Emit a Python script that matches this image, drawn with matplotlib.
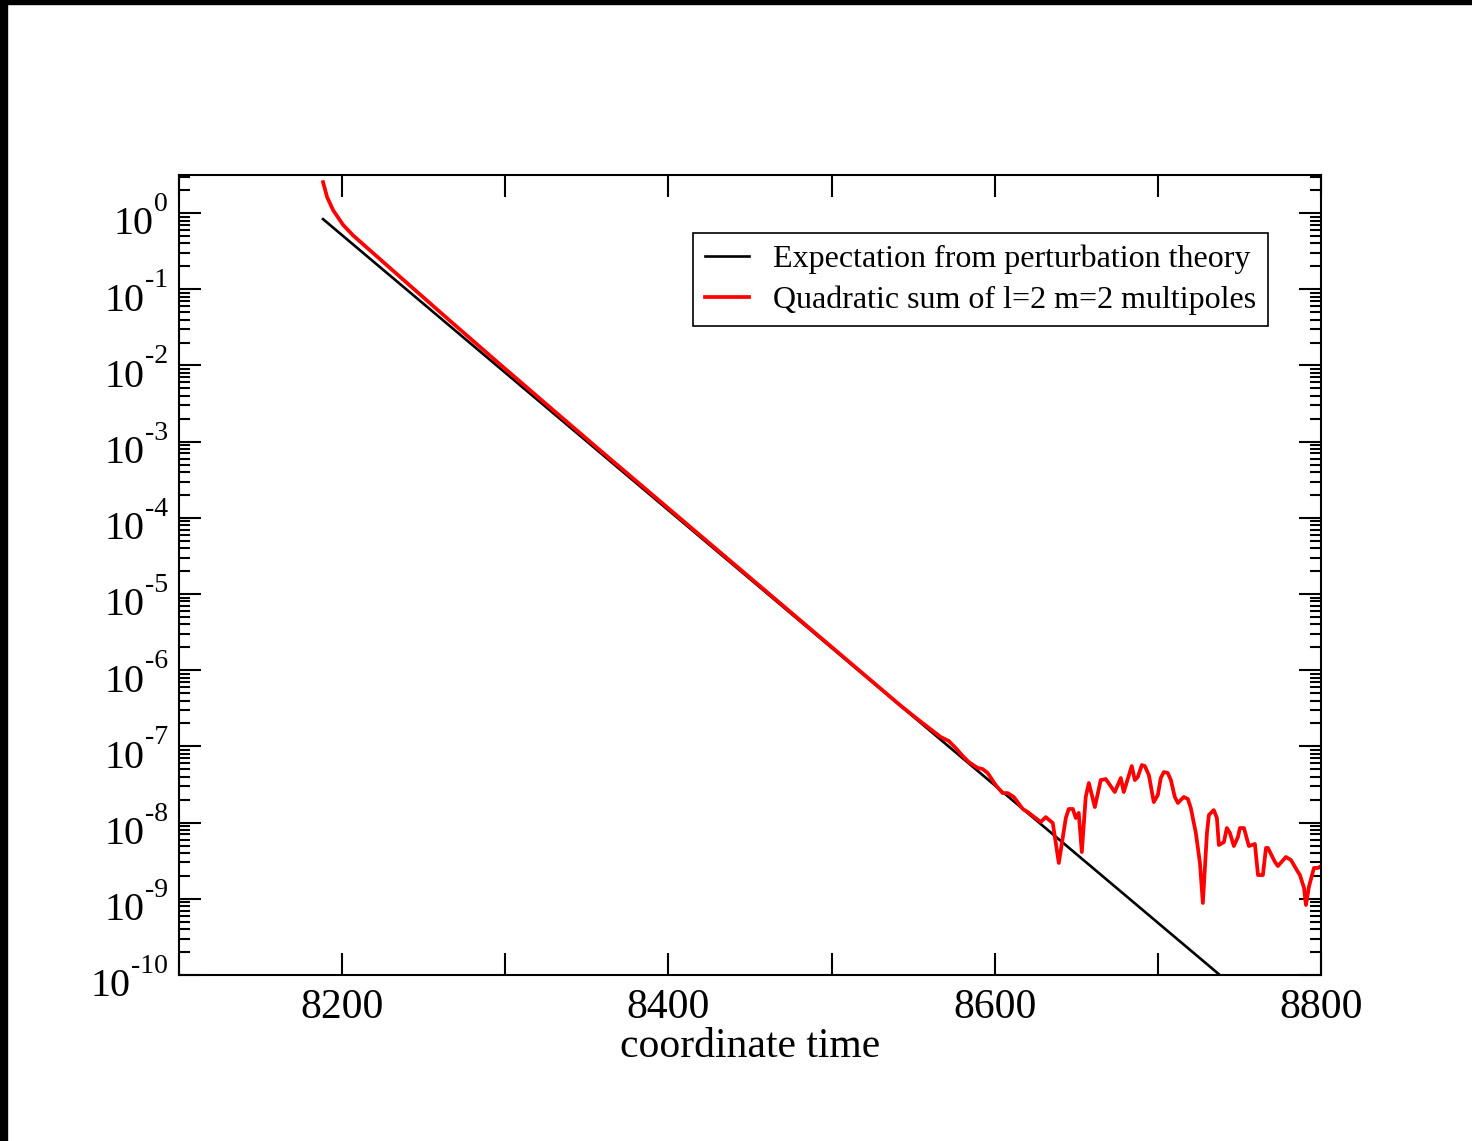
import numpy as np
import matplotlib
matplotlib.use("Agg")
import matplotlib.pyplot as plt
from matplotlib.ticker import MultipleLocator, LogLocator, NullFormatter
from matplotlib.transforms import blended_transform_factory
from matplotlib.patches import Rectangle

plt.rcParams['font.family'] = ['Liberation Serif', 'DejaVu Serif']

# perturbation theory expectation (straight line in log space)
t_pert = [8188.3, 8738.0]
amp_pert = [0.834, 1e-10]

# quadratic sum of the l=2 m=2 multipoles
t_sum = [8188.3, 8190.8, 8194.5, 8200.6, 8206.7, 8235.6, 8266.3, 8296.9, 8327.6,
         8358.3, 8419.6, 8481.0, 8542.3, 8553.4, 8566.9, 8571.8, 8576.1, 8580.4,
         8584.1, 8589.6, 8592.6, 8595.7, 8600.6, 8604.9, 8608.0, 8611.7, 8617.2,
         8620.2, 8628.2, 8631.3, 8635.6, 8639.3, 8643.6, 8645.4, 8647.9, 8649.7,
         8651.5, 8653.4, 8655.8, 8657.7, 8661.4, 8665.0, 8668.1, 8673.6, 8677.3,
         8679.1, 8684.0, 8685.9, 8687.7, 8690.2, 8692.0, 8694.5, 8697.5, 8700.0,
         8701.8, 8703.7, 8706.1, 8708.0, 8710.4, 8712.3, 8715.9, 8718.4, 8720.2,
         8723.3, 8725.8, 8727.6, 8730.1, 8731.3, 8734.3, 8736.2, 8737.4, 8740.5,
         8742.3, 8744.2, 8746.6, 8749.1, 8750.3, 8752.8, 8755.8, 8759.5, 8761.4,
         8764.4, 8766.3, 8767.5, 8771.8, 8773.6, 8778.5, 8781.6, 8785.9, 8787.1,
         8789.6, 8790.8, 8792.6, 8795.7, 8798.2, 8800.0]
amp_sum = [2.55, 1.62, 1.09, 0.70, 0.51, 0.145, 0.0383, 0.0103, 2.80e-3,
           7.64e-4, 5.86e-5, 4.49e-6, 3.44e-7, 2.22e-7, 1.33e-7, 1.18e-7, 9.53e-8, 7.48e-8,
           6.24e-8, 5.21e-8, 5.05e-8, 4.48e-8, 3.11e-8, 2.44e-8, 2.44e-8, 2.17e-8, 1.51e-8,
           1.38e-8, 1.02e-8, 1.18e-8, 9.88e-9, 2.95e-9, 1.15e-8, 1.51e-8, 1.51e-8, 1.15e-8,
           1.34e-8, 4.11e-9, 2.17e-8, 3.31e-8, 1.60e-8, 3.62e-8, 3.73e-8, 2.52e-8, 3.85e-8,
           2.52e-8, 5.53e-8, 3.62e-8, 3.96e-8, 5.70e-8, 5.53e-8, 4.21e-8, 1.86e-8, 2.30e-8,
           3.85e-8, 4.61e-8, 4.48e-8, 3.62e-8, 2.17e-8, 1.81e-8, 2.17e-8, 2.04e-8, 1.56e-8,
           7.31e-9, 2.95e-9, 8.81e-10, 7.31e-9, 1.26e-8, 1.46e-8, 1.15e-8, 5.08e-9, 5.56e-9,
           8.49e-9, 7.31e-9, 4.93e-9, 6.47e-9, 8.49e-9, 8.49e-9, 4.93e-9, 5.24e-9, 2.05e-9,
           2.05e-9, 4.65e-9, 4.65e-9, 3.04e-9, 2.69e-9, 3.54e-9, 3.23e-9, 2.25e-9, 2.05e-9,
           1.39e-9, 8.30e-10, 1.43e-9, 2.54e-9, 2.54e-9, 2.69e-9]

# decades that get a "10^n" label on the y axis
decades = list(range(-10, 1))

fig = plt.figure(figsize=(14.72, 11.41), dpi=100)
ax = fig.add_axes([0.1216, 0.1455, 0.7758, 0.7011])

ax.plot(t_pert, amp_pert, color='black', lw=1.9,
        label='Expectation from perturbation theory')
ax.plot(t_sum, amp_sum, color='red', lw=2.7,
        label='Quadratic sum of l=2 m=2 multipoles')

ax.set_yscale('log')
ax.set_xlim(8100, 8800)
ax.set_ylim(1e-10, 10 ** 0.5)

ax.xaxis.set_major_locator(MultipleLocator(200))
ax.xaxis.set_minor_locator(MultipleLocator(100))
ax.yaxis.set_major_locator(LogLocator(base=10, numticks=20))
ax.yaxis.set_minor_locator(LogLocator(base=10, subs=np.arange(2, 10), numticks=20))
ax.yaxis.set_major_formatter(NullFormatter())
ax.yaxis.set_minor_formatter(NullFormatter())

ax.tick_params(axis='both', which='both', direction='in', top=True, right=True, width=1.5)
ax.tick_params(axis='x', which='both', length=16, pad=10, labelsize=30)
ax.tick_params(axis='y', which='major', length=16)
ax.tick_params(axis='y', which='minor', length=8)
for s in ax.spines.values():
    s.set_linewidth(1.5)

# y labels as "10" with a raised exponent, right-aligned next to the axis
ytrans = blended_transform_factory(ax.transAxes, ax.transData)
for e in decades:
    sup = ax.annotate(str(e), xy=(0, 10.0 ** e), xycoords=ytrans,
                      xytext=(-8, 1.5), textcoords='offset points',
                      ha='right', va='baseline', fontsize=20, annotation_clip=False)
    ax.annotate('10', xy=(0, 0), xycoords=sup, xytext=(-0.5, -12.5),
                textcoords='offset points', ha='right', va='baseline',
                fontsize=29, annotation_clip=False)

ax.set_xlabel('coordinate time', fontsize=30, labelpad=0)

leg = ax.legend(loc='upper right', bbox_to_anchor=(0.9536, 0.9275), fontsize=23,
                fancybox=False, framealpha=1, edgecolor='black',
                handlelength=1.4, handletextpad=0.75, labelspacing=0.35,
                borderpad=0.36, borderaxespad=0)
leg.get_frame().set_linewidth(1.2)

# dark frame strips along the top and left edges
fig.patches.append(Rectangle((0, 1 - 4 / 1141), 1, 4 / 1141, transform=fig.transFigure,
                             color='black', zorder=10))
fig.patches.append(Rectangle((0, 0), 7 / 1472, 1, transform=fig.transFigure,
                             color='black', zorder=10))

fig.savefig('out.png', dpi=100)
